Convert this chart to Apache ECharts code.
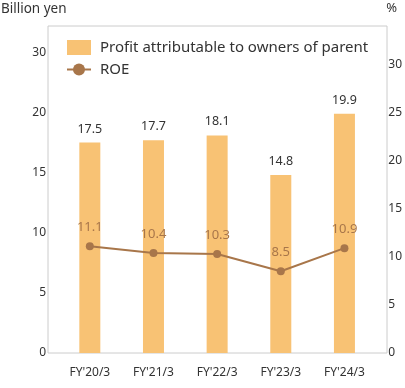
<!DOCTYPE html>
<html><head><meta charset="utf-8">
<script src="https://cdn.jsdelivr.net/npm/echarts@6/dist/echarts.min.js"></script>
<style>html,body{margin:0;padding:0;background:#fff}#c{width:405px;height:388px}</style>
</head><body><div id="c"></div>
<script>
const categories = ["FY'20/3", "FY'21/3", "FY'22/3", "FY'23/3", "FY'24/3"];
const profit = [17.5, 17.7, 18.1, 14.8, 19.9];
const roe = [11.1, 10.4, 10.3, 8.5, 10.9];
const leftTickLabels = ["0", "5", "10", "15", "20", "30"];
const rightTickLabels = ["0", "5", "10", "15", "20", "25", "30"];

const font = "'Noto Sans', sans-serif";
const chart = echarts.init(document.getElementById('c'));
chart.setOption({
  animation: false,
  textStyle: { fontFamily: font },
  title: [
    { text: 'Billion yen', left: -4, top: -3, textStyle: { fontSize: 13.5, fontWeight: 'normal', color: '#333', fontFamily: font } },
    { text: '%', right: 3, top: -3, textStyle: { fontSize: 13, fontWeight: 'normal', color: '#333', fontFamily: font } }
  ],
  legend: {
    orient: 'vertical', left: 61, top: 35, itemWidth: 24, itemHeight: 15, itemGap: 7,
    textStyle: { fontSize: 15, color: '#333', fontFamily: font, padding: [0, 0, 0, 4] },
    data: [
      { name: 'Profit attributable to owners of parent', icon: 'rect' },
      { name: 'ROE' }
    ]
  },
  grid: [
    { left: 48, right: 18, top: 26, bottom: 35, show: true, borderColor: '#cccccc', borderWidth: 1 },
    { left: 58, right: 26, top: 26, bottom: 35 }
  ],
  xAxis: [
    { gridIndex: 0, type: 'category', data: categories, show: false },
    { gridIndex: 1, type: 'category', data: categories,
      axisLine: { show: false }, axisTick: { show: false },
      axisLabel: { color: '#333', fontSize: 12, margin: 14, fontFamily: font } }
  ],
  yAxis: [
    { gridIndex: 0, type: 'value', show: false, min: 0, max: 1 },
    { gridIndex: 1, type: 'value', min: 0, max: 27.2, interval: 5,
      splitLine: { show: false }, axisLine: { show: false }, axisTick: { show: false },
      axisLabel: { color: '#333', fontSize: 12, margin: 12, showMaxLabel: false, fontFamily: font,
        formatter: v => { const i = Math.round(v / 5); return leftTickLabels[i] !== undefined ? leftTickLabels[i] : ''; } } },
    { gridIndex: 1, type: 'value', min: 0, max: 34, interval: 5, position: 'right',
      splitLine: { show: false }, axisLine: { show: false }, axisTick: { show: false },
      axisLabel: { color: '#333', fontSize: 12, margin: 12, showMaxLabel: false, fontFamily: font,
        formatter: v => { const i = Math.round(v / 5); return rightTickLabels[i] !== undefined ? rightTickLabels[i] : ''; } } }
  ],
  series: [
    { name: 'Profit attributable to owners of parent', type: 'bar', xAxisIndex: 1, yAxisIndex: 1,
      data: profit, barWidth: 21, itemStyle: { color: '#F8C274' },
      label: { show: true, position: 'top', distance: 7, color: '#333', fontSize: 12.5, fontFamily: font } },
    { name: 'ROE', type: 'line', xAxisIndex: 1, yAxisIndex: 2, data: roe,
      symbol: 'circle', symbolSize: 8, lineStyle: { color: '#A8764A', width: 2 },
      itemStyle: { color: '#A8764A' },
      label: { show: true, position: 'top', distance: 8, color: '#A8764A', fontSize: 13, fontFamily: font } }
  ]
});
</script></body></html>
